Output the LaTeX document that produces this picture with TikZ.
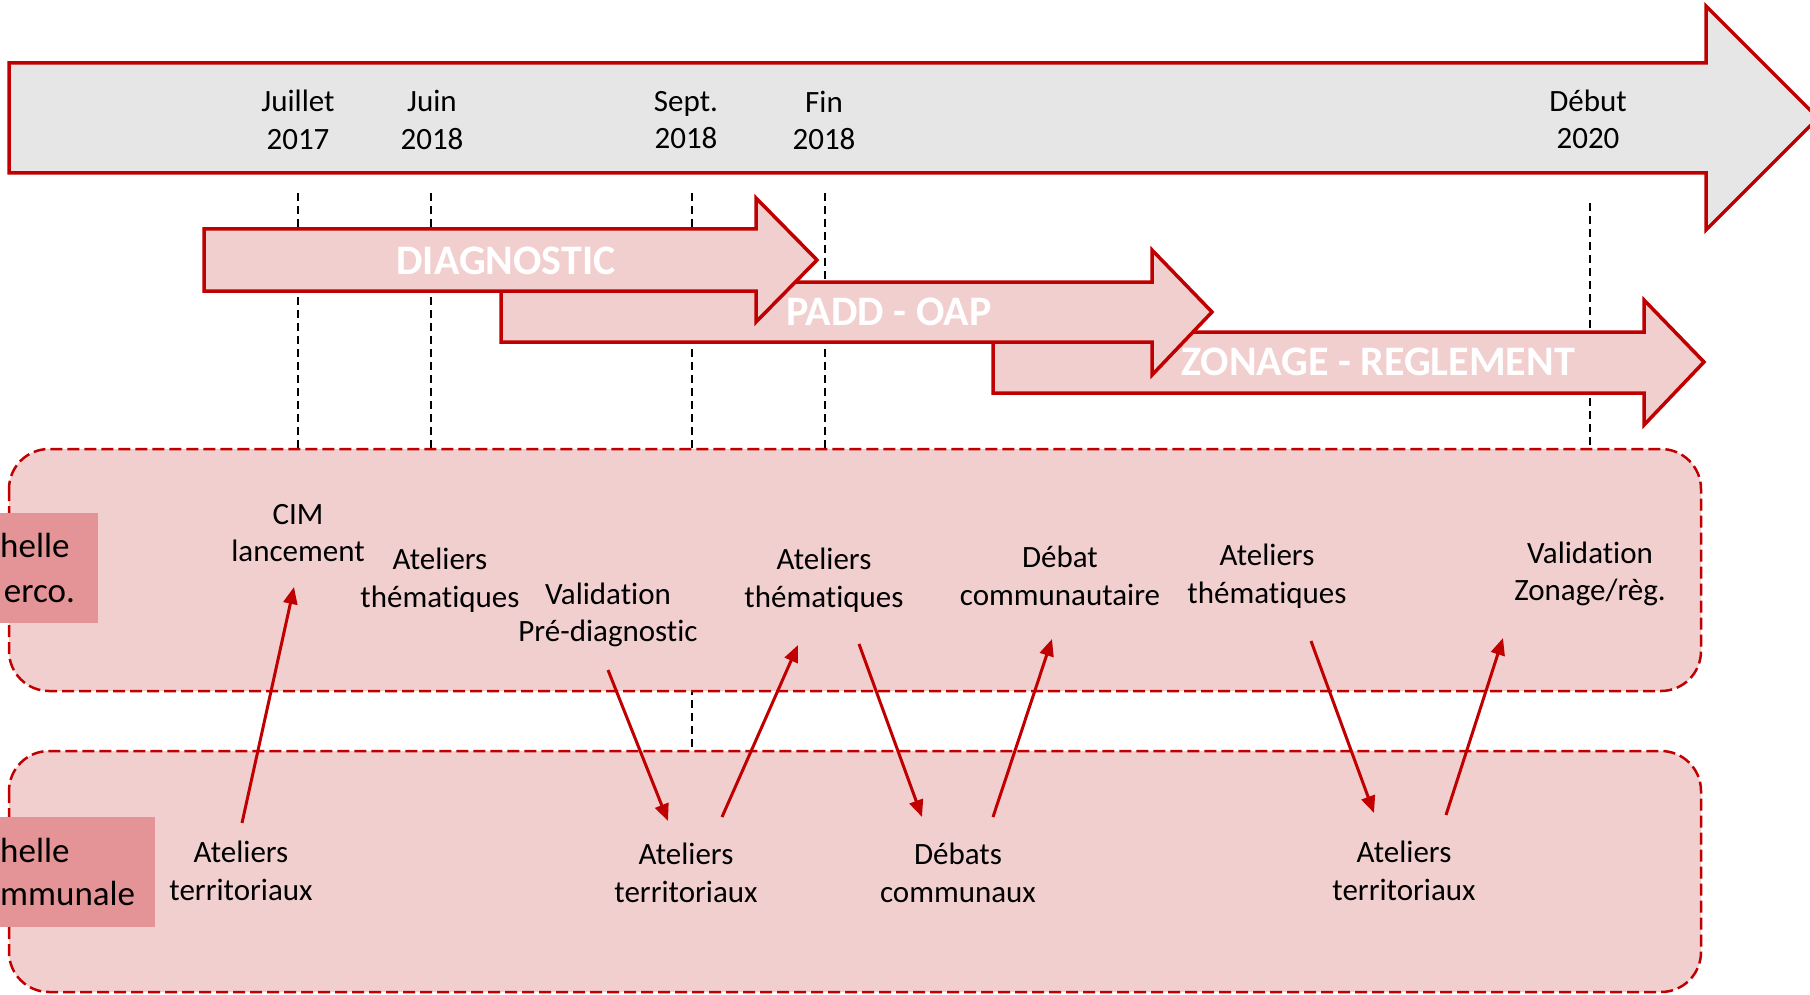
\documentclass[tikz,border=0pt]{standalone}
\usepackage{fontspec}
\setmainfont{Carlito}[Ligatures=NoCommon]
\usetikzlibrary{arrows.meta}
\definecolor{dred}{HTML}{C00000}
\definecolor{pinkfill}{HTML}{F2CFCF}
\definecolor{labfill}{HTML}{E49396}
\definecolor{greyfill}{HTML}{E6E6E6}
\begin{document}
\begin{tikzpicture}[x=1pt,y=-1pt,
  lbl/.style={align=center, inner sep=0pt, font=\fontsize{31}{37.5}\selectfont},
  taglbl/.style={inner sep=0pt, font=\fontsize{35}{43}\selectfont},
  phase/.style={fill=pinkfill, draw=dred, line width=3.5pt, line join=miter},
  phasetxt/.style={text=white, font=\fontsize{42}{50}\selectfont\bfseries, inner sep=0pt},
  vguide/.style={black, line width=1.5pt, dash pattern=on 8pt off 5pt},
  zone/.style={fill=pinkfill, draw=dred, line width=2.5pt, dash pattern=on 12pt off 5pt, rounded corners=40pt},
  tag/.style={fill=labfill, draw=none},
  arr/.style={dred, line width=3pt, -{Triangle[length=17pt,width=14pt]}},
]
\useasboundingbox (0,0) rectangle (1810,995);
\clip (0,0) rectangle (1810,995);

% vertical guides
\draw[vguide] (298,193) -- (298,449);
\draw[vguide] (431,193) -- (431,449);
\draw[vguide] (692,193) -- (692,751);
\draw[vguide] (825,193) -- (825,449);
\draw[vguide] (1590,203) -- (1590,449);

% main timeline arrow
\draw[fill=greyfill, draw=dred, line width=3.5pt] (9,63) -- (1706,63) -- (1706,6) -- (1818,118) -- (1706,230) -- (1706,173) -- (9,173) -- cycle;

% phase arrows
\draw[phase] (993,332) -- (1644,332) -- (1644,300) -- (1704,362) -- (1644,425) -- (1644,393) -- (993,393) -- cycle;
\draw[phase] (501,282) -- (1152,282) -- (1152,250) -- (1212,312) -- (1152,375) -- (1152,342) -- (501,342) -- cycle;
\draw[phase] (204,229) -- (756,229) -- (756,198) -- (817,260) -- (756,322) -- (756,291) -- (204,291) -- cycle;
\node[phasetxt] (zon) at (1378,362) {ZONAGE - REGLEMENT};
\node[phasetxt] (padd) at (889,312) {PADD - OAP};
\node[phasetxt] (diag) at (506,261) {DIAGNOSTIC};

% zones
\draw[zone] (9,449) rectangle (1701,691);
\draw[zone] (9,751) rectangle (1701,992);

% tags
\fill[tag] (0,513) rectangle (98,623);
\fill[tag] (0,817) rectangle (155,927);
\node[taglbl, anchor=base west] (tagA1) at (0,557) {helle};
\node[taglbl, anchor=base east] (tagA2) at (75,602) {erco.};
\node[taglbl, anchor=base west] (tagB1) at (0,862) {helle};
\node[taglbl, anchor=base west] (tagB2) at (0,905) {mmunale};

% dates
\node[lbl] (d1) at (298,120) {Juillet\\2017};
\node[lbl] (d2) at (432,120) {Juin\\2018};
\node[lbl] (d3) at (686,120) {Sept.\\2018};
\node[lbl] (d4) at (824,120.5) {Fin\\2018};
\node[lbl] (d5) at (1588,119.5) {Début\\2020};

% upper events
\node[lbl] (cim) at (298,533) {CIM\\lancement};
\node[lbl] (at1) at (440,580) {Ateliers\\thématiques};
\node[lbl] (valp) at (608,615) {Validation\\Pré-diagnostic};
\node[lbl] (at2) at (824,580) {Ateliers\\thématiques};
\node[lbl] (deb) at (1060,576) {Débat\\communautaire};
\node[lbl] (at3) at (1267,576) {Ateliers\\thématiques};
\node[lbl] (valz) at (1590,574) {Validation\\Zonage/règ.};

% lower events
\node[lbl] (tt1) at (241,871) {Ateliers\\territoriaux};
\node[lbl] (tt2) at (686,873) {Ateliers\\territoriaux};
\node[lbl] (debs) at (958,873) {Débats\\communaux};
\node[lbl] (tt3) at (1404,871) {Ateliers\\territoriaux};

% connectors
\draw[arr] ([shift={(1,-48)}]tt1.center) -- ([shift={(-4,54)}]cim.center);
\draw[arr] ([shift={(0,55)}]valp.center) -- ([shift={(-18,-52)}]tt2.center);
\draw[arr] ([shift={(36,-56)}]tt2.center) -- ([shift={(-26,65)}]at2.center);
\draw[arr] ([shift={(35,64)}]at2.center) -- ([shift={(-36,-56)}]debs.center);
\draw[arr] ([shift={(35,-56)}]debs.center) -- ([shift={(-8,63)}]deb.center);
\draw[arr] ([shift={(44,65)}]at3.center) -- ([shift={(-30,-58)}]tt3.center);
\draw[arr] ([shift={(42,-56)}]tt3.center) -- ([shift={(-87,64)}]valz.center);
\end{tikzpicture}
\end{document}
